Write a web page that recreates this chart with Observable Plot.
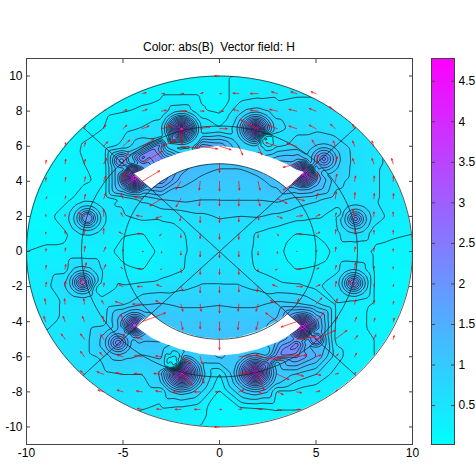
<!DOCTYPE html>
<html><head><meta charset="utf-8">
<script src="https://cdn.jsdelivr.net/npm/d3@7"></script>
<script src="https://cdn.jsdelivr.net/npm/@observablehq/plot@0.6"></script>
<style>
html,body{margin:0;padding:0;background:#fff}
#wrap{position:relative;width:476px;height:466px;overflow:hidden;font-family:"Liberation Sans",sans-serif}
#main,#cb{position:absolute;left:0;top:0;width:476px;height:466px}
#wrap svg{position:absolute;top:0;left:0;background:transparent;max-width:none}
#title{position:absolute;left:26px;width:386px;top:40px;text-align:center;font-size:12px;white-space:pre;color:#000}
</style></head><body>
<div id="wrap"><div id="main"></div><div id="cb"></div><div id="title">Color: abs(B)  Vector field: H</div></div>
<script>
const gridX = d3.range(-10, 11);
const gridY = [10,9,8,7,6,5,4,3,2,1,0,-1,-2,-3,-4,-5,-6,-7,-8,-9,-10];
// |B| at the integer grid, x = -10..10 per row
const gridB = [
[.2,.2,.2,.2,.2,.2,.2,.2,.2,.2,.2,.3,.35,.35,.4,.4,.4,.4,.4,.4,.4],
[.2,.2,.2,.2,.2,.2,.21,.22,.22,.22,.2,.3,.38,.42,.45,.45,.45,.45,.45,.45,.45],
[.2,.2,.2,.2,.21,.24,.27,.32,.36,.27,.2,.35,.6,.55,.58,.58,.52,.5,.5,.5,.5],
[.2,.2,.2,.22,.25,.38,.5,.7,1.0,.85,.5,.75,.9,.75,.65,.65,.55,.5,.5,.5,.5],
[.2,.2,.2,.26,.32,.55,.9,1.4,1.8,1.8,1.6,1.4,.9,.8,.8,.85,.7,.6,.5,.5,.5],
[.2,.2,.22,.25,.32,.7,1.5,2.4,1.6,1.3,1.2,1.2,1.3,1.5,2.2,1.3,.85,.62,.5,.45,.45],
[.18,.18,.2,.22,.3,.5,.95,2.0,1.25,1.1,1.05,1.05,1.1,1.25,1.6,1.1,.8,.6,.5,.42,.4],
[.15,.15,.15,.18,.32,.5,.75,.95,1.0,.95,.95,.95,.95,1.0,.85,.75,.6,.55,.5,.42,.38],
[.15,.13,.16,.3,.5,.45,.55,.52,.55,.65,.72,.7,.72,.65,.55,.5,.5,.3,.6,.35,.32],
[.17,.17,.2,.3,.35,.26,.24,.36,.45,.58,.62,.58,.45,.35,.24,.26,.35,.35,.3,.27,.25],
[.25,.3,.3,.3,.3,.2,.14,.3,.44,.55,.58,.55,.44,.3,.14,.16,.28,.25,.22,.2,.2],
[.3,.32,.35,.5,.42,.28,.24,.36,.45,.6,.62,.6,.45,.36,.24,.27,.33,.5,.22,.16,.15],
[.35,.4,.5,.7,.2,.5,.55,.58,.65,.72,.72,.72,.65,.55,.52,.42,.35,.6,.22,.15,.14],
[.42,.42,.5,.52,.55,.65,.9,.95,.9,.9,.92,.9,.9,1.0,.95,.75,.45,.35,.22,.18,.18],
[.45,.45,.5,.55,.6,.85,1.8,1.15,1.05,1.05,1.05,1.05,1.1,1.2,1.8,1.2,.45,.3,.22,.2,.2],
[.5,.5,.55,.6,.8,1.2,1.8,1.2,1.15,1.15,1.15,1.15,1.15,1.4,2.6,1.4,.42,.3,.25,.22,.22],
[.5,.55,.55,.6,.75,1.0,.9,.95,.7,1.05,1.2,1.4,1.8,2.0,1.9,1.4,.6,.3,.25,.25,.25],
[.55,.55,.6,.6,.65,.7,.7,.75,1.0,.9,.45,.7,1.0,1.0,.9,.7,.4,.25,.25,.25,.25],
[.55,.55,.55,.55,.55,.6,.55,.52,.75,.6,.2,.15,.45,.4,.4,.32,.3,.25,.25,.25,.25],
[.5,.5,.5,.5,.5,.5,.48,.45,.4,.3,.15,.15,.2,.25,.25,.25,.25,.25,.25,.25,.25],
[.45,.45,.45,.45,.4,.4,.35,.35,.3,.25,.15,.15,.18,.2,.2,.2,.2,.2,.2,.2,.2]
];
// field concentrations: x, y, centre value, then [radius, value] pairs read from the rings
const spots = [
[-1.97,6.98,4.7,[.15,3.8],[.3,3],[.5,2.2],[.8,1.1],[1.1,.6]],
[1.87,6.98,4.7,[.15,3.6],[.3,2.8],[.5,2],[.8,1.2],[1.1,.75]],
[-4.4,4.2,4.7,[.15,4.2],[.3,3.6],[.5,2.8],[.8,1.5]],
[4.35,4.4,4.4,[.15,3.9],[.3,3.4],[.5,2.6],[.8,1.5]],
[-5.08,5.16,.3,[.15,2],[.3,1.6],[.5,1.1]],
[5.41,5.27,2.4,[.15,2],[.3,1.7],[.5,1.4],[.8,.95]],
[-6.85,1.9,.4,[.12,2.2],[.25,1.6],[.45,1.1],[.7,.7],[1,.45]],
[7.05,1.85,2.2,[.15,1.8],[.3,1.4],[.5,1],[.8,.7]],
[-7.1,-1.75,2.5,[.15,2.1],[.3,1.7],[.5,1.2],[.8,.75]],
[6.95,-1.8,2.4,[.15,2],[.3,1.6],[.5,1.1],[.8,.65]],
[-5.25,-5.2,2.4,[.15,2.1],[.3,1.8],[.5,1.4],[.8,1]],
[-4.4,-4.2,3.8,[.15,3.2],[.3,2.6],[.5,1.9],[.8,1.25]],
[-1.95,-6.95,4.7,[.15,4],[.3,3.3],[.5,2.6],[.8,1.7],[1.2,.9]],
[1.85,-6.9,4.7,[.15,4],[.3,3.3],[.5,2.6],[.8,1.7],[1.2,1]],
[5,-5,.3,[.12,2.4],[.25,1.9],[.45,1.3]],
[4.3,-4.3,4.7,[.15,4.2],[.3,3.6],[.5,2.8],[.8,1.7]],
[2.53,6.31,.12,[.2,.3],[.4,.55]],
[-2.41,-6.27,.12,[.2,.3],[.4,.55]],
[6.13,2.23,.3,[.2,.45]],
[-6.23,-2.11,.25,[.2,.42]]
];
const ringAngles = [7,37,67,97,127,157,187,217,247,277,307,337];
// strong band between the slot and the stator teeth
const bandX = [-4.63,-4.02,-3.53,-3.04,-2.55,4.61,4.03,3.42,2.83,2.44];
const bandY = [4.91,5.33,5.72,6.03,6.36,-4.73,-5.24,-5.71,-6.04,-6.37];
const bandB = [2.9,2.5,2.3,2.2,2.4,3,2.5,2.3,2.2,2.4];

// H vectors at the integer grid: [y, firstX, [dx,dy], ...]; null means no arrow
const arrowRows = [
[10,0,[-.25,0]],
[9,-4,[.2,.05],[.15,0],[.15,0],[.15,.05],[.1,0],[-.3,.02],[-.4,0],[-.3,.1],[-.3,.1],[-.25,.1]],
[8,-6,[.1,.08],[.2,.08],[.25,.1],[.25,.05],[.3,0],[.2,0],[.2,0],[-.3,.1],[-.4,.05],[-.4,.1],[-.4,.1],[-.35,.15],[-.3,.25]],
[7,-7,[.05,.2],[.1,.2],[.2,.2],[.35,.15],[.5,.15],[.05,-.9],[.5,.1],[.4,0],[.1,.1],[-.9,.5],[-.5,.2],[-.4,.15],[-.35,.2],[-.25,.25],[-.1,.25]],
[6,-8,[.03,.2],[.05,.2],[.2,.25],[.35,.35],[.6,.4],[.7,.3],[.9,-.1],[.9,-.15],[.6,-.2],[.2,-.5],[.2,-.5],[-.6,.2],[-.5,.15],[-.2,.35],[-.1,.3],[-.1,.3],[-.1,.3]],
[5,-9,[.02,.2],[.03,.25],[.05,.25],[.15,.3],[.3,.7],[1,.7],null,null,null,[0,-.5],null,null,null,[-.7,-.2],[.1,.5],[.1,.4],[-.1,.3],[-.1,.3],[-.08,.3]],
[4,-9,[.02,.2],[.03,.22],[.05,.25],[.1,.3],[.1,.45],[.9,.6],null,[-.25,-.45],[-.05,-.5],[0,-.55],[.03,-.5],[.1,-.5],null,[-.7,-.5],[.1,.45],[.08,.4],[.05,.3],[.02,.3],[.02,.3]],
[3,-9,[.05,.1],[.03,.15],[.05,.25],[.1,.3],[-.1,.3],[-.4,.1],[-.6,-.4],[-.25,-.45],[-.05,-.4],[0,-.4],[0,-.4],[.1,-.4],[.5,-.25],[.4,-.1],[.1,.3],[.05,.4],[.02,.35],[.02,.3],[.02,.3]],
[2,-9,[0,.1],[0,.1],[-.3,.2],[0,.4],[-.1,.2],[-.3,.05],[-.3,-.1],[-.05,-.25],[0,-.35],[0,-.35],[0,-.3],[.03,-.2],[.25,-.1],[.3,.05],[.2,.1],[.05,.2],[-.1,.4],[0,.25],[0,.25]],
[1,-9,[0,.1],[0,.15],[.02,.25],[0,.3],[-.2,.1],[-.25,.02],[-.1,-.1],[0,-.2],[0,-.25],[0,-.3],[0,-.3],[0,-.2],[.05,-.1],[.25,-.02],[.2,.1],[.03,.25],[.03,.25],[0,.2],[0,.2]],
[0,-9,[.02,.15],[.02,.2],[.03,.3],[.1,.25],[0,.1],[.05,0],[0,-.08],[0,-.2],[0,-.3],[0,-.35],[0,-.3],[0,-.2],[0,-.1],[.02,0],[.05,.05],[.03,.25],[.03,.25],[0,.2],[0,.15]],
[-1,-9,[.02,.2],[.03,.25],[.1,.35],[.1,.25],[-.1,.1],[-.2,.02],[-.05,-.02],[.02,-.2],[0,-.3],[0,-.3],[0,-.3],[0,-.15],[-.1,-.05],[.2,0],[.15,.05],[.05,.2],[.05,.35],[.02,.15],[0,.12]],
[-2,-9,[.03,.25],[.03,.3],[-.2,.4],[.02,.2],[-.2,.1],[-.25,0],[-.25,.1],[.1,-.25],[0,-.35],[0,-.35],[0,-.3],[-.05,-.3],[-.25,.1],[.3,0],[.2,.1],[.05,.3],[-.3,.35],[.02,.15],[.02,.12]],
[-3,-9,[-.05,.3],[-.03,.3],[-.03,.3],[-.1,.2],[-.4,.15],[-.5,0],[-.3,.2],[.1,-.4],[.05,-.4],[0,-.5],[-.03,-.4],[-.1,-.4],[-.35,.2],[.1,.3],[.3,.35],[.1,.3],[.05,.25],[.03,.2],[.02,.15]],
[-4,-9,[-.1,.3],[-.1,.3],[-.1,.3],[-.05,.3],[-.1,.4],[1.2,.5],null,[.1,-.45],[0,-.4],[0,-.5],[-.05,-.45],[-.1,-.45],[-.6,.5],[-.8,-.3],[.4,.5],[.1,.25],[.1,.25],[.05,.2],[.05,.2]],
[-5,-8,[-.2,.3],[-.2,.3],[-.15,.25],[.05,.3],[-.3,.1],null,null,null,[0,-.6],null,null,null,[1,.15],[1,.5],[.6,.5],[.15,.2],[.1,.25],[.05,.2]],
[-6,-7,[-.2,.3],[-.2,.25],[-.3,.1],[-.4,.05],[-.3,.05],[.5,-.4],[.1,-.4],null,[1,.1],[1.2,-.2],[1.1,.1],[.5,.1],[.25,.1],[.15,.15],[.1,.2]],
[-7,-7,[-.2,.2],[-.35,.15],[-.35,.1],[-.4,.05],[-.4,.05],[.6,-.6],[.2,-.5],[.05,-.1],[.5,.1],[.3,-.9],[.6,-.3],[.35,-.1],[.25,-.05],[.15,.05],[.05,.1]],
[-8,-6,[-.3,.1],[-.3,.1],[-.3,.05],[-.3,.05],[-.4,-.02],[-.3,0],[-.2,0],[.25,.1],[.2,-.1],[.3,-.15],[.25,-.05],[.2,.05],[.1,.1]],
[-9,-4,[-.25,.05],[-.25,.02],[-.3,0],[-.3,0],[.1,0],[.15,.02],[.2,0],[.2,-.05],[.15,0]],
[-10,0,[-.25,0]]
];
// geometry
const radii = [5, 7.15, 10];
const circleAngles = d3.range(0, 361, 3);
const diagonalEnds = [[-7.07,7.07],[7.07,7.07],[7.07,-7.07],[-7.07,-7.07]];
const slotTopX   = [-4.45,-4,-3.5,-3,-2,-1,0,1,2,3,3.52,4,4.4];
const slotTopLow = [4.4,3.95,3.57,4,4.58,4.9,5,4.9,4.58,4,3.57,4.1,4.5];
const slotTopHigh= [4.4,4.6,4.95,5.2,5.6,5.85,6,5.85,5.6,5.2,4.95,4.65,4.5];
const slotBotX   = [-4.3,-4,-3.5,-3,-2,-1,0,1,2,3,3.5,4,4.25];
const slotBotHigh= [-4.3,-3.95,-3.57,-4,-4.58,-4.9,-5,-4.9,-4.58,-4,-3.57,-4.0,-4.25];
const slotBotLow = [-4.3,-4.55,-4.95,-5.2,-5.6,-5.85,-5.97,-5.85,-5.6,-5.2,-4.9,-4.5,-4.25];

const xTicks = [-10,-5,0,5,10];
const yTicks = [-10,-8,-6,-4,-2,0,2,4,6,8,10];
const barTicks = [.5,1,1.5,2,2.5,3,3.5,4,4.5];
const barDomain = [.02,4.78];
const levels = d3.range(.25, 4.78, .2267);

// samples: grid nodes lying inside a concentration give way to its rings
const samples = [];
const outerR = s => s.slice(3).reduce((m,d)=>Math.max(m,d[0]),0);
gridY.forEach((y,j)=>gridX.forEach((x,i)=>{
  if (!spots.some(s=>Math.hypot(s[0]-x,s[1]-y)<outerR(s)+.25)) samples.push({x,y,v:gridB[j][i]});
}));
[[-11,11.02],[11.03,11],[-11.01,-11],[11,-11.04]].forEach(([x,y])=>samples.push({x,y,v:.3}));
spots.forEach(([x,y,p,...rings],k)=>{
  samples.push({x,y,v:p});
  rings.forEach(([r,v],m)=>ringAngles.forEach(a=>{
    const t=(a+k*3+m*11)*Math.PI/180;
    samples.push({x:x+r*Math.cos(t),y:y+r*Math.sin(t),v});
  }));
});
bandX.forEach((x,i)=>samples.push({x,y:bandY[i],v:bandB[i]}));

const arrows=[];
arrowRows.forEach(([y,x0,...cells])=>cells.forEach((c,i)=>{ if(c) arrows.push({x:x0+i,y,dx:c[0],dy:c[1]}); }));

const circle = r => circleAngles.map(a=>({x:r*Math.cos(a*Math.PI/180),y:r*Math.sin(a*Math.PI/180),r}));
const rimUp = circle(10).filter(d=>d.y>=-1e-6).sort((a,b)=>a.x-b.x);
const rimDn = circle(10).filter(d=>d.y<=1e-6).sort((a,b)=>a.x-b.x);
const slotT = slotTopX.map((x,i)=>({x,a:slotTopLow[i],b:slotTopHigh[i]}));
const slotB = slotBotX.map((x,i)=>({x,a:slotBotLow[i],b:slotBotHigh[i]}));
const colorOpts = {type:"linear",domain:barDomain,range:["#00ffff","#ff00ff"],interpolate:"rgb"};
const axisStyle = {tickSize:-4,stroke:"#444",color:"#000"};

const plot = Plot.plot({
  width:476,height:466,marginLeft:26,marginRight:64,marginTop:58,marginBottom:22,
  style:{background:"transparent",fontFamily:"Liberation Sans",fontSize:"12px",color:"#000"},
  x:{domain:[-10,10]},y:{domain:[-11,11]},
  color:colorOpts,
  marks:[
    Plot.raster(samples,{x:"x",y:"y",fill:"v",interpolate:"barycentric",pixelSize:1,x1:-10,x2:10,y1:-11,y2:11}),
    Plot.contour(samples,{x:"x",y:"y",value:"v",interpolate:"barycentric",pixelSize:1,blur:1,thresholds:levels,x1:-10,x2:10,y1:-11,y2:11,fill:"none",stroke:"#0a2c33",strokeWidth:.8}),
    Plot.areaY(rimUp,{x:"x",y1:"y",y2:()=>11.2,fill:"white",clip:true}),
    Plot.areaY(rimDn,{x:"x",y1:"y",y2:()=>-11.2,fill:"white",clip:true}),
    Plot.areaY(slotT,{x:"x",y1:"a",y2:"b",fill:"white"}),
    Plot.areaY(slotB,{x:"x",y1:"a",y2:"b",fill:"white"}),
    ...radii.map(r=>Plot.line(circle(r),{x:"x",y:"y",stroke:r===10?"#333":"#0a2c33",strokeWidth:.8})),
    Plot.link(diagonalEnds,{x1:0,y1:0,x2:d=>d[0],y2:d=>d[1],stroke:"#0a2c33",strokeWidth:.8}),
    Plot.arrow(arrows,{x1:"x",y1:"y",x2:d=>d.x+d.dx,y2:d=>d.y+d.dy,stroke:"#ff0000",strokeWidth:.8,strokeOpacity:.85,headLength:3.5,headAngle:45,bend:0,insetEnd:0,insetStart:0}),
    Plot.frame({stroke:"#444"}),
    Plot.axisX({ticks:xTicks,tickFormat:d=>d,...axisStyle,tickPadding:8,label:null}),
    Plot.axisX({ticks:xTicks,anchor:"top",tickFormat:()=>"",...axisStyle,label:null}),
    Plot.axisY({ticks:yTicks,tickFormat:d=>d,...axisStyle,tickPadding:8,label:null}),
    Plot.axisY({ticks:yTicks,anchor:"right",tickFormat:()=>"",...axisStyle,label:null})
  ]
});
document.getElementById("main").appendChild(plot);

const bar = Plot.plot({
  width:476,height:466,marginLeft:431,marginRight:22,marginTop:58,marginBottom:22,
  style:{background:"transparent",fontFamily:"Liberation Sans",fontSize:"12px",color:"#000",overflow:"visible"},
  x:{domain:[0,1],axis:null},y:{domain:barDomain,axis:null},
  color:colorOpts,
  marks:[
    Plot.raster({fill:(x,y)=>y,x1:0,x2:1,y1:barDomain[0],y2:barDomain[1],width:2,height:200,imageRendering:"auto"}),
    Plot.frame({stroke:"#444"}),
    Plot.axisY({ticks:barTicks,anchor:"right",tickFormat:d=>d,...axisStyle,tickPadding:8,label:null}),
    Plot.axisY({ticks:barTicks,anchor:"left",tickFormat:()=>"",...axisStyle,label:null})
  ]
});
document.getElementById("cb").appendChild(bar);
</script>
</body></html>
